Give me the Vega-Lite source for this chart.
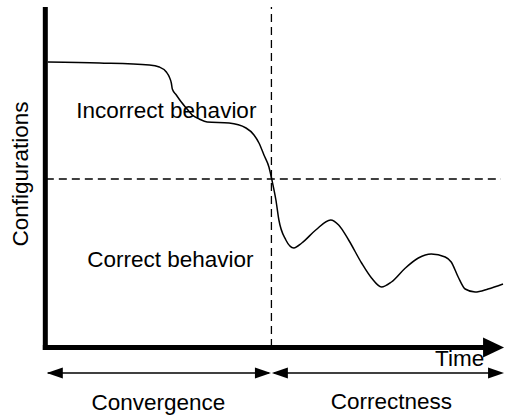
{
  "$schema": "https://vega.github.io/schema/vega-lite/v6.json",
  "width": 506,
  "height": 415,
  "autosize": {"type": "fit", "contains": "padding"},
  "padding": 0,
  "background": "white",
  "config": {"view": {"stroke": null}, "text": {"font": "Liberation Sans", "fontSize": 22.5, "color": "black"}},
  "datasets": {
    "axes": [
      {"t": -0.5, "c": -3, "t2": -0.5, "c2": 340},
      {"t": -3, "c": -0.5, "t2": 440, "c2": -0.5}
    ],
    "dashes": [
      {"t": 226.5, "c": 0, "t2": 226.5, "c2": 340},
      {"t": 0, "c": 168, "t2": 457, "c2": 168}
    ],
    "spans": [
      {"t": 2, "c": -26, "t2": 224, "c2": -26},
      {"t": 229, "c": -26, "t2": 456, "c2": -26}
    ],
    "heads": [
      {"t": 9, "c": -26, "dir": "left"},
      {"t": 218, "c": -26, "dir": "right"},
      {"t": 235, "c": -26, "dir": "left"},
      {"t": 452, "c": -26, "dir": "right"}
    ],
    "bighead": [{"t": 449.5, "c": -0.5}],
    "curve": [
      {"t": 2, "c": 285}, {"t": 54, "c": 284}, {"t": 104, "c": 282}, {"t": 114, "c": 280},
      {"t": 121, "c": 275}, {"t": 124, "c": 270}, {"t": 126, "c": 264}, {"t": 127, "c": 258},
      {"t": 131, "c": 252}, {"t": 136, "c": 245}, {"t": 141, "c": 239}, {"t": 147, "c": 232},
      {"t": 154, "c": 228}, {"t": 162, "c": 225}, {"t": 184, "c": 224}, {"t": 201, "c": 219},
      {"t": 209, "c": 212}, {"t": 214, "c": 204}, {"t": 219, "c": 192}, {"t": 224, "c": 180},
      {"t": 227, "c": 167}, {"t": 231, "c": 147}, {"t": 234, "c": 127}, {"t": 241, "c": 107},
      {"t": 249, "c": 99}, {"t": 257, "c": 104}, {"t": 271, "c": 117}, {"t": 286, "c": 127},
      {"t": 294, "c": 122}, {"t": 304, "c": 107}, {"t": 317, "c": 84}, {"t": 327, "c": 69},
      {"t": 337, "c": 60}, {"t": 347, "c": 65}, {"t": 361, "c": 79}, {"t": 374, "c": 89},
      {"t": 387, "c": 93}, {"t": 401, "c": 90}, {"t": 407, "c": 85}, {"t": 414, "c": 70},
      {"t": 421, "c": 58}, {"t": 431, "c": 55}, {"t": 444, "c": 58}, {"t": 459, "c": 63}
    ],
    "labels": [
      {"label": "Incorrect behavior", "t": 121, "c": 229},
      {"label": "Correct behavior", "t": 125, "c": 80},
      {"label": "Convergence", "t": 113, "c": -63},
      {"label": "Correctness", "t": 347, "c": -62},
      {"label": "Time", "t": 415.5, "c": -19}
    ],
    "ylabel": [{"label": "Configurations", "t": -18, "c": 173}]
  },
  "encoding": {
    "x": {"field": "t", "type": "quantitative", "scale": {"domain": [-46, 460], "nice": false, "zero": false}, "axis": null},
    "y": {"field": "c", "type": "quantitative", "scale": {"domain": [-68, 347], "nice": false, "zero": false}, "axis": null}
  },
  "layer": [
    {
      "data": {"name": "labels"},
      "mark": {"type": "text", "align": "center", "baseline": "alphabetic"},
      "encoding": {"text": {"field": "label"}}
    },
    {
      "data": {"name": "ylabel"},
      "mark": {"type": "text", "align": "center", "baseline": "alphabetic", "angle": 270},
      "encoding": {"text": {"field": "label"}}
    },
    {
      "data": {"name": "dashes"},
      "mark": {"type": "rule", "color": "black", "strokeWidth": 1.3, "strokeDash": [8, 5]},
      "encoding": {"x2": {"field": "t2"}, "y2": {"field": "c2"}}
    },
    {
      "data": {"name": "spans"},
      "mark": {"type": "rule", "color": "black", "strokeWidth": 1.3},
      "encoding": {"x2": {"field": "t2"}, "y2": {"field": "c2"}}
    },
    {
      "data": {"name": "axes"},
      "mark": {"type": "rule", "color": "black", "strokeWidth": 5},
      "encoding": {"x2": {"field": "t2"}, "y2": {"field": "c2"}}
    },
    {
      "data": {"name": "heads"},
      "transform": [{"filter": "datum.dir === 'left'"}],
      "mark": {"type": "point", "filled": true, "color": "black", "opacity": 1, "strokeWidth": 0, "size": 256, "shape": "M-1,0L1,-0.69L1,0.69Z"}
    },
    {
      "data": {"name": "heads"},
      "transform": [{"filter": "datum.dir === 'right'"}],
      "mark": {"type": "point", "filled": true, "color": "black", "opacity": 1, "strokeWidth": 0, "size": 256, "shape": "M1,0L-1,-0.69L-1,0.69Z"}
    },
    {
      "data": {"name": "bighead"},
      "mark": {"type": "point", "filled": true, "color": "black", "opacity": 1, "strokeWidth": 0, "size": 441, "shape": "M1,0L-1,-0.95L-1,0.95Z"}
    },
    {
      "data": {"name": "curve"},
      "mark": {"type": "line", "color": "black", "strokeWidth": 1.5, "interpolate": "monotone"}
    }
  ]
}
